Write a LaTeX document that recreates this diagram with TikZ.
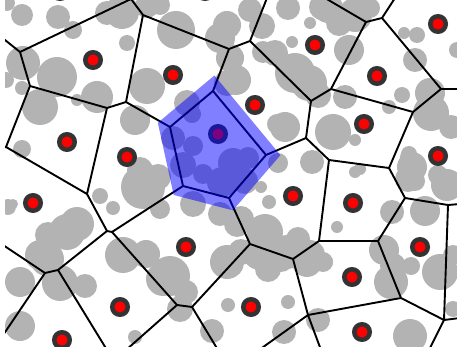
\documentclass[tikz,border=0pt]{standalone}
\definecolor{ringgray}{RGB}{51,51,51}
\definecolor{dotgray}{RGB}{179,179,179}
\begin{document}
\begin{tikzpicture}[x=1pt,y=-1pt,
  cellline/.style={line width=1.9pt, line join=round},
  seed/.style={circle, draw=ringgray, fill=red, line width=4.5pt, minimum size=15.5pt, inner sep=0pt},
  blob/.style={fill=dotgray}]
\useasboundingbox (0,0) rectangle (457,347);
\begin{scope}
\clip (5,0) rectangle (457,347);
% gray particles
\foreach \x/\y/\r in {
 7/3/8, 22/15/11, 58/17/12, 73/30/9, 107/13/12, 122/12/17, 147/6/12, 160/5/10, 127/43/8,
 176/30/19, 220/38/15, 227/25/14, 230/58/14, 250/10/12, 262/26/13, 263/52/11, 288/8/12,
 292/42/6, 293/68/13, 275/53/13, 310/23/6, 322/7/13, 328/8/15, 339/23/13, 355/15/17, 370/8/10,
 349/50/15, 404/33/6, 417/35/8, 415/60/12, 457/50/8, 23/63/17, 57/77/20,
 6/80/8, 22/88/7, 40/107/18, 77/100/6, 97/97/16, 147/86/18, 135/120/15, 187/103/13, 22/149/9,
 140/170/13, 236/80/15, 227/83/13, 295/73/20, 309/83/18, 318/95/13, 285/127/15, 277/124/10,
 345/97/12, 333/132/18, 355/140/6, 389/107/7, 402/95/8, 430/93/15, 431/113/18, 451/127/12,
 409/154/8, 412/167/15, 415/181/10, 447/185/16, 425/211/15, 392/212/12, 408/157/8, 312/162/12,
 360/169/6, 337/227/6, 278/163/10, 261/187/6, 269/202/7,
 8/207/8, 13/204/5, 100/196/8, 113/208/7, 143/187/22, 160/209/10, 158/177/13, 67/232/18,
 77/224/17, 48/235/13, 40/255/15, 47/259/17, 20/282/15, 60/283/18, 85/286/12, 20/326/15,
 123/255/18, 146/254/14, 163/279/17, 170/276/20, 186/292/12, 180/309/13, 135/337/7,
 227/262/17, 228/305/7, 212/331/12, 193/204/13, 220/214/12, 237/224/13,
 241/219/13, 265/232/18, 298/239/12, 310/255/15, 325/262/8, 281/259/13, 268/269/13,
 241/252/13, 231/265/12, 260/252/18, 287/252/17, 307/262/15, 323/262/10, 288/302/7,
 318/320/12, 284/332/12, 384/250/15, 411/266/9, 391/282/17, 393/266/13, 440/272/18,
 453/255/10, 408/179/13, 438/175/10, 410/336/17, 453/309/8, 355/172/6,
 173/138/12, 193/146/10, 183/165/13, 203/174/10, 233/163/15, 248/158/11, 245/181/13,
 222/182/15, 192/114/9}
 \fill[blob] (\x,\y) circle (\r pt);
% Voronoi vertices
\coordinate (L1) at (0,36);
\coordinate (V1) at (20,52);
\coordinate (V2) at (30,86);
\coordinate (V3) at (131,-1);
\coordinate (V4) at (143,15);
\coordinate (V5) at (229,49);
\coordinate (V6) at (126,102);
\coordinate (V7) at (6,147);
\coordinate (L7) at (0,148);
\coordinate (V8) at (107,108);
\coordinate (V9) at (87,194);
\coordinate (V11) at (250,41);
\coordinate (T11) at (267,-2);
\coordinate (V12) at (311,101);
\coordinate (V13) at (331,89);
\coordinate (V14) at (306,138);
\coordinate (V15) at (366,22);
\coordinate (T15) at (325,-2);
\coordinate (V17) at (382,18);
\coordinate (T17) at (395,-2);
\coordinate (V16) at (413,112);
\coordinate (V18) at (441,89);
\coordinate (R18) at (460,89);
\coordinate (V19) at (389,168);
\coordinate (V20) at (329,160);
\coordinate (V21) at (405,198);
\coordinate (V22) at (448,205);
\coordinate (R22) at (460,204);
\coordinate (V23) at (319,241);
\coordinate (V24) at (378,241);
\coordinate (V25) at (293,259);
\coordinate (V26) at (401,298);
\coordinate (V27) at (250,244);
\coordinate (V28) at (308,315);
\coordinate (D28a) at (259,350);
\coordinate (D28b) at (321,350);
\coordinate (V29) at (444,320);
\coordinate (R29) at (460,318);
\coordinate (D29) at (429,350);
\coordinate (V30a) at (107,231);
\coordinate (V30b) at (112,232);
\coordinate (V31a) at (58,270);
\coordinate (V31b) at (45,273);
\coordinate (L31) at (0,243);
\coordinate (D31b) at (-7,350);
\coordinate (D31a) at (107,350);
\coordinate (V32) at (177,305);
\coordinate (D32) at (126,350);
\coordinate (V33) at (192,307);
\coordinate (D33) at (218,350);
\coordinate (B1) at (170,127);
\coordinate (B2) at (213,91);
\coordinate (B3) at (266,155);
\coordinate (B4) at (229,198);
\coordinate (B5) at (183,186);
% Voronoi edges
\draw[cellline] (L1) -- (V1) -- (V3) -- (V4) -- (V5) -- (V11) -- (T11);
\draw[cellline] (V1) -- (V2) -- (V7) -- (V9) -- (V8) -- (V6) -- (V4);
\draw[cellline] (V2) -- (V8);
\draw[cellline] (L7) -- (V7);
\draw[cellline] (V6) -- (B1);
\draw[cellline] (V5) -- (B2);
\draw[cellline] (V11) -- (V12) -- (V13) -- (V15) -- (T15);
\draw[cellline] (V15) -- (V17) -- (T17);
\draw[cellline] (V17) -- (V18) -- (R18);
\draw[cellline] (V13) -- (V16) -- (V18);
\draw[cellline] (V12) -- (V14) -- (B3);
\draw[cellline] (V14) -- (V20) -- (V19) -- (V16);
\draw[cellline] (V19) -- (V21) -- (V22) -- (R22);
\draw[cellline] (V22) -- (V29) -- (R29);
\draw[cellline] (V29) -- (D29);
\draw[cellline] (V21) -- (V24) -- (V26) -- (V29);
\draw[cellline] (V20) -- (V23) -- (V24);
\draw[cellline] (V23) -- (V25) -- (V27) -- (B4);
\draw[cellline] (V25) -- (V28) -- (V26);
\draw[cellline] (D28a) -- (V28) -- (D28b);
\draw[cellline] (V27) -- (V33) -- (D33);
\draw[cellline] (V33) -- (V32) -- (D32);
\draw[cellline] (V32) -- (V30b) -- (B5);
\draw[cellline] (V9) -- (V30a) -- (V30b);
\draw[cellline] (V30a) -- (V31a) -- (D31a);
\draw[cellline] (V31a) -- (V31b) -- (L31);
\draw[cellline] (V31b) -- (D31b);
\draw[cellline] (B1) -- (B2) -- (B3) -- (B4) -- (B5) -- cycle;
% seeds
\node[seed] (s1) at (93,60) {};
\node[seed] (s2) at (173,75) {};
\node[seed] (s3) at (315,45) {};
\node[seed] (s4) at (438,24) {};
\node[seed] (s5) at (377,76) {};
\node[seed] (s6) at (255,105) {};
\node[seed] (s7) at (218,134) {};
\node[seed] (s8) at (67,142) {};
\node[seed] (s9) at (127,157) {};
\node[seed] (s10) at (364,124) {};
\node[seed] (s11) at (438,156) {};
\node[seed] (s12) at (33,203) {};
\node[seed] (s13) at (293,196) {};
\node[seed] (s14) at (353,203) {};
\node[seed] (s15) at (186,247) {};
\node[seed] (s16) at (420,247) {};
\node[seed] (s17) at (352,277) {};
\node[seed] (s18) at (120,307) {};
\node[seed] (s19) at (251,307) {};
\node[seed] (s20) at (362,332) {};
\node[seed] (s21) at (62,340) {};
\node[seed] (s22) at (60,-9) {};
\node[seed] (s23) at (205,-9) {};
% highlighted cell
\begin{scope}[transparency group, opacity=0.5]
\filldraw[blue, line width=22pt, line join=miter] (B1) -- (B2) -- (B3) -- (B4) -- (B5) -- cycle;
\end{scope}
\end{scope}
\end{tikzpicture}
\end{document}
